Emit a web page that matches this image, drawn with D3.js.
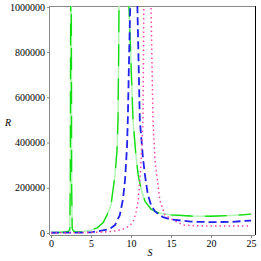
<!DOCTYPE html>
<html lang="en">
<head>
    <meta charset="UTF-8">
    <title>R vs S</title>
    <script src="https://cdn.jsdelivr.net/npm/d3@7"></script>
    <style>
        body { margin: 0; background: #fff; }
        .tick text { font-family: "Liberation Serif", serif; font-size: 10px; fill: #000; }
        .lbl { font-family: "Liberation Serif", serif; font-style: italic; font-size: 10px; }
    </style>
</head>
<body>
<script>
    // values, [S, R]
    const greenCurve = [
        [0, 2000], [1, 2500], [1.8, 5000], [2.2, 8000], [2.35, 14000], [2.42, 250000],
        [2.48, 1500000], [2.52, 1500000], [2.58, 200000], [2.65, 20000],
        [2.8, 9000], [3, 6000], [4, 5000], [5, 13000], [5.75, 22000],
        [6.5, 45000], [7, 79000], [7.5, 123000], [7.75, 190000], [8, 255000], [8.25, 365000],
        [8.375, 500000], [8.45, 760000], [8.5, 1000000], [8.7, 2000000], [9.2, 3000000],
        [9.6, 1500000], [9.75, 1000000], [10, 750000], [10.25, 500000], [10.6, 350000],
        [10.9, 255000], [11.3, 190000], [11.75, 140000], [12.5, 105000], [13.5, 88000],
        [15, 80000], [17.5, 75000], [20, 74000], [22.5, 77000], [25, 83000]
    ];
    const blueCurve = [
        [0, 1000], [4, 1500], [5, 3000], [6, 8000], [7, 15000], [7.5, 22000], [8, 35000],
        [8.6, 79000], [9, 150000], [9.25, 233000], [9.5, 380000], [9.6, 500000],
        [9.75, 760000], [9.9, 1000000], [10.1, 2000000], [10.4, 3000000], [10.65, 1600000],
        [10.8, 1000000], [11.1, 500000], [11.5, 330000], [11.75, 255000], [12.1, 170000],
        [12.5, 125000], [13, 95000], [14, 70000], [15, 60000], [17.5, 50000], [20, 48000],
        [22.5, 49000], [25, 55000]
    ];
    const pinkCurve = [
        [0, 0], [6, 3000], [7, 5000], [8, 9000], [9, 17000], [9.75, 30000], [10.25, 48000],
        [10.6, 85000], [10.9, 145000], [11.2, 280000], [11.5, 500000], [11.6, 1000000],
        [11.8, 2000000], [12.1, 3000000], [12.4, 1600000], [12.5, 1000000], [12.75, 500000],
        [13, 320000], [13.6, 145000], [14.25, 79000], [15.25, 57000], [16.5, 35000],
        [18, 32000], [20, 31000], [25, 31000]
    ];
    const xTicks = [0, 5, 10, 15, 20, 25];
    const yTicks = [0, 200000, 400000, 600000, 800000, 1000000];

    const W = 261, H = 261;
    const box = {left: 50, right: 255, top: 6, bottom: 235};

    const x = d3.scaleLinear().domain([-0.125, 25.5]).range([box.left, box.right]);
    const y = d3.scaleLinear().domain([-9000, 1004000]).range([box.bottom, box.top]);

    const svg = d3.select("body").append("svg").attr("width", W).attr("height", H);

    svg.append("defs").append("clipPath").attr("id", "plot")
        .append("rect").attr("x", box.left).attr("y", box.top)
        .attr("width", box.right - box.left).attr("height", box.bottom - box.top);

    // frame
    svg.append("line").attr("x1", box.left).attr("x2", box.right).attr("y1", box.top + 0.5).attr("y2", box.top + 0.5)
        .attr("stroke", "#888");
    svg.append("line").attr("x1", box.right + 0.5).attr("x2", box.right + 0.5).attr("y1", box.top).attr("y2", box.bottom)
        .attr("stroke", "#000");

    const line = d3.line().x(d => x(d[0])).y(d => y(d[1]));
    const plot = svg.append("g").attr("clip-path", "url(#plot)");

    // green: pale solid with bright dashes on top
    plot.append("path").datum(greenCurve).attr("d", line)
        .attr("fill", "none").attr("stroke", "#b0f7b0").attr("stroke-width", 1.5);
    plot.append("path").datum(greenCurve).attr("d", line)
        .attr("fill", "none").attr("stroke", "#10dd10").attr("stroke-width", 1.3)
        .attr("stroke-dasharray", "22,12");

    plot.append("path").datum(blueCurve).attr("d", line)
        .attr("fill", "none").attr("stroke", "#2222ee").attr("stroke-width", 1.8)
        .attr("stroke-dasharray", "8,4");

    plot.append("path").datum(pinkCurve).attr("d", line)
        .attr("fill", "none").attr("stroke", "#ff44aa").attr("stroke-width", 1.5)
        .attr("stroke-dasharray", "1.5,3");

    // axes
    const xAxis = svg.append("g").attr("transform", `translate(0,${box.bottom})`)
        .call(d3.axisBottom(x).tickValues(xTicks).tickSize(3).tickPadding(2).tickFormat(d3.format("d")));
    xAxis.select(".domain").attr("stroke", "#888").attr("d", `M${box.left},0.5H${box.right}`);
    xAxis.selectAll(".tick line").attr("stroke", "#888");

    const yAxis = svg.append("g").attr("transform", `translate(${box.left},0)`)
        .call(d3.axisLeft(y).tickValues(yTicks).tickSize(3).tickPadding(2).tickFormat(d3.format("d")));
    yAxis.select(".domain").attr("stroke", "#888").attr("d", `M-0.5,${box.top}V${box.bottom}`);
    yAxis.selectAll(".tick line").attr("stroke", "#888");

    svg.append("text").attr("class", "lbl").attr("x", 8).attr("y", 126).attr("text-anchor", "middle").text("R");
    svg.append("text").attr("class", "lbl").attr("x", 150).attr("y", 256).attr("text-anchor", "middle").text("S");
</script>
</body>
</html>
